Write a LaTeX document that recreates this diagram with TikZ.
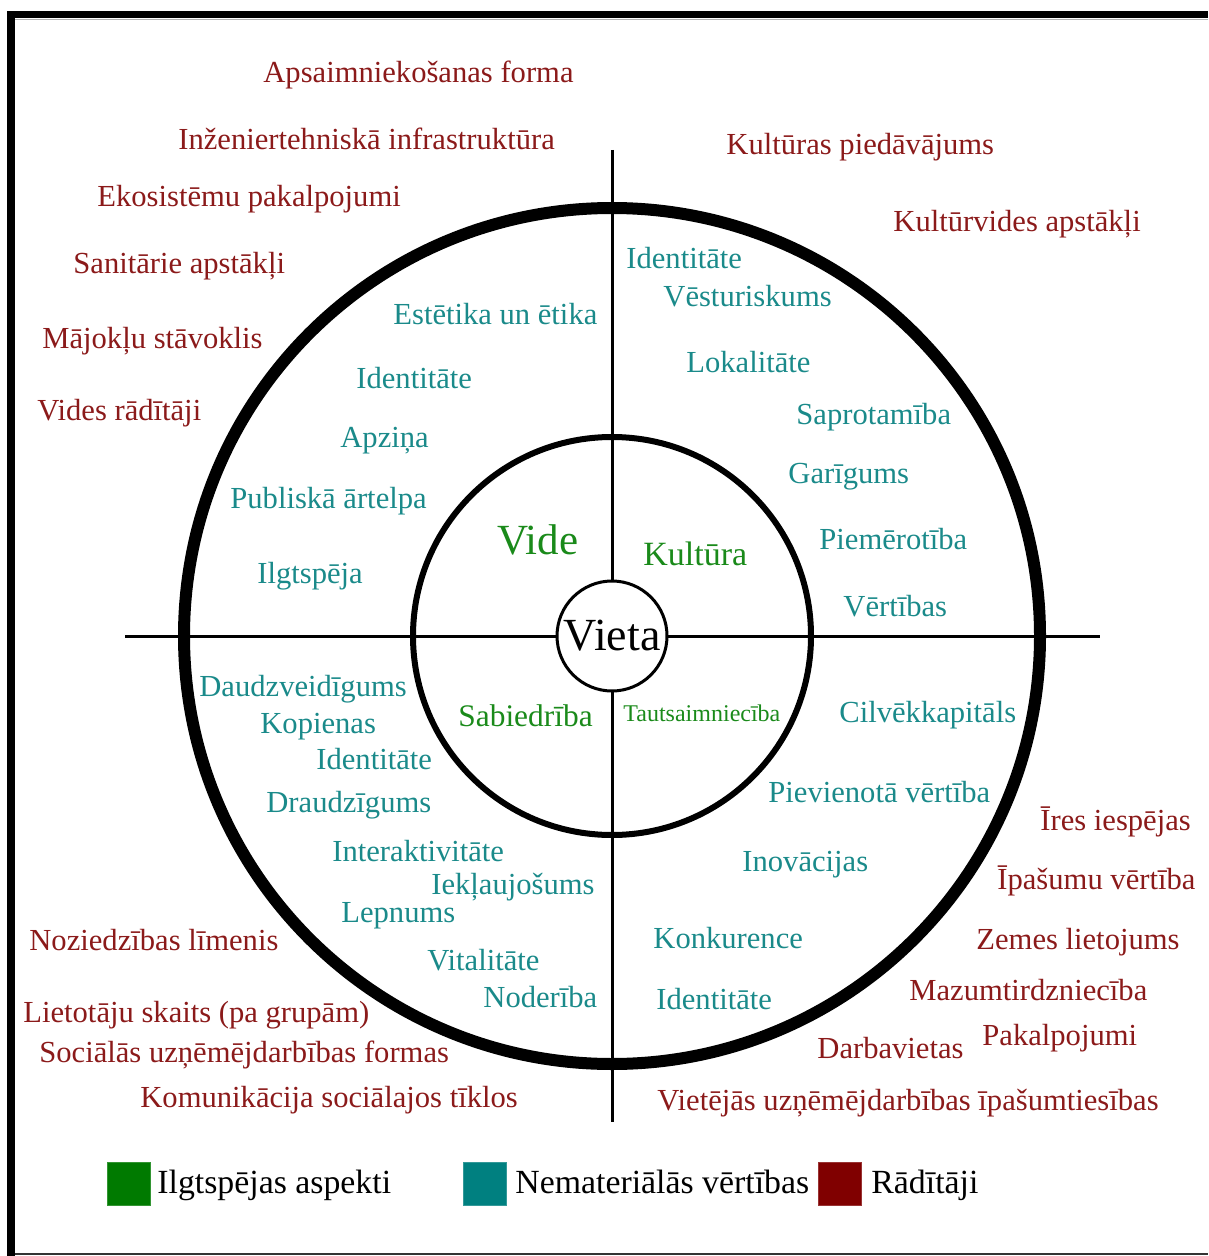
\documentclass[tikz,border=0pt]{standalone}
\usepackage{fontspec}
\setmainfont{Liberation Serif}
\definecolor{ind}{HTML}{8B1A1A}
\definecolor{nem}{HTML}{1A8A8A}
\definecolor{ilg}{HTML}{1A8A1A}
\definecolor{legG}{HTML}{007A00}
\definecolor{legT}{HTML}{008080}
\definecolor{legR}{HTML}{800000}
\begin{document}
\begin{tikzpicture}[x=0.5pt,y=-0.5pt,
  lbl/.style={anchor=west,inner sep=0pt,text height=0.66em,text depth=0pt,yshift=-2pt,font=\fontsize{15.3}{18}\selectfont},
  redtxt/.style={lbl,text=ind},
  tealtxt/.style={lbl,text=nem},
  greentxt/.style={lbl,text=ilg},
  legtxt/.style={lbl,text=black,font=\fontsize{16.9}{20}\selectfont},
  legbox/.style={draw=#1!80!white,fill=#1,line width=0.5pt,minimum size=21.5pt,inner sep=0pt},
  axis/.style={line width=1.5pt},
]
\useasboundingbox (0,0) rectangle (1208,1256);
% frame
\fill[black] (7,11) rectangle (1208,18);
\fill[black] (7,11) rectangle (15,1256);
\draw[gray!60,line width=0.6pt] (15,19.5) -- (1208,19.5);
\draw[black!80,line width=0.8pt] (15,1254) -- (1208,1254);

% centre and axes
\coordinate (c) at (612,636);
\coordinate (axL) at (125,636);
\coordinate (axR) at (1100,636);
\coordinate (axT) at (612,150);
\coordinate (axB) at (612,1122);
\draw[axis] (axL) -- (axR);
\draw[axis] (axT) -- (axB);
\draw[line width=6pt] (c) circle[radius=428];
\draw[line width=3pt] (c) circle[radius=199];
\node[circle,draw,fill=white,line width=1.5pt,minimum size=55pt,inner sep=0pt,
  font=\fontsize{23}{26}\selectfont] (vieta) at (c) {Vieta};

% sustainability aspects
\node[greentxt,font=\fontsize{21.5}{24}\selectfont] (vide) at (497,544) {Vide};
\node[greentxt,font=\fontsize{17}{20}\selectfont] (kult) at (643,555) {Kultūra};
\node[greentxt,font=\fontsize{15.7}{19}\selectfont] (sab) at (458,716) {Sabiedrība};
\node[greentxt,font=\fontsize{12}{14}\selectfont] (taut) at (623,711) {Tautsaimniecība};

% top-left indicators
\node[redtxt] (r1) at (263,72) {Apsaimniekošanas forma};
\node[redtxt] (r2) at (178,139) {Inženiertehniskā infrastruktūra};
\node[redtxt] (r3) at (97,196) {Ekosistēmu pakalpojumi};
\node[redtxt] (r4) at (73,263) {Sanitārie apstākļi};
\node[redtxt] (r5) at (42,338) {Mājokļu stāvoklis};
\node[redtxt] (r6) at (37,410) {Vides rādītāji};
% top-right indicators
\node[redtxt] (r7) at (726,144) {Kultūras piedāvājums};
\node[redtxt] (r8) at (893,221) {Kultūrvides apstākļi};

% top-left values
\node[tealtxt] (t1) at (393,314) {Estētika un ētika};
\node[tealtxt] (t2) at (356,378) {Identitāte};
\node[tealtxt] (t3) at (340,437) {Apziņa};
\node[tealtxt] (t4) at (230,498) {Publiskā ārtelpa};
\node[tealtxt] (t5) at (257,573) {Ilgtspēja};
% top-right values
\node[tealtxt] (t6) at (626,258) {Identitāte};
\node[tealtxt] (t7) at (663,296) {Vēsturiskums};
\node[tealtxt] (t8) at (686,362) {Lokalitāte};
\node[tealtxt] (t9) at (796,414) {Saprotamība};
\node[tealtxt] (t10) at (788,473) {Garīgums};
\node[tealtxt] (t11) at (819,539) {Piemērotība};
\node[tealtxt] (t12) at (843,606) {Vērtības};

% bottom-left values
\node[tealtxt] (t13) at (199,686) {Daudzveidīgums};
\node[tealtxt] (t14) at (260,723) {Kopienas};
\node[tealtxt] (t15) at (316,759) {Identitāte};
\node[tealtxt] (t16) at (266,802) {Draudzīgums};
\node[tealtxt] (t17) at (332,851) {Interaktivitāte};
\node[tealtxt] (t18) at (431,884) {Iekļaujošums};
\node[tealtxt] (t19) at (341,912) {Lepnums};
\node[tealtxt] (t20) at (427,960) {Vitalitāte};
\node[tealtxt] (t21) at (483,997) {Noderība};
% bottom-left indicators
\node[redtxt] (r9) at (29,940) {Noziedzības līmenis};
\node[redtxt] (r10) at (23,1012) {Lietotāju skaits (pa grupām)};
\node[redtxt] (r11) at (39,1052) {Sociālās uzņēmējdarbības formas};
\node[redtxt] (r12) at (140,1097) {Komunikācija sociālajos tīklos};

% bottom-right values
\node[tealtxt] (t22) at (839,712) {Cilvēkkapitāls};
\node[tealtxt] (t23) at (768,792) {Pievienotā vērtība};
\node[tealtxt] (t24) at (742,861) {Inovācijas};
\node[tealtxt] (t25) at (653,938) {Konkurence};
\node[tealtxt] (t26) at (656,999) {Identitāte};
% bottom-right indicators
\node[redtxt] (r13) at (1040,820) {Īres iespējas};
\node[redtxt] (r14) at (997,879) {Īpašumu vērtība};
\node[redtxt] (r15) at (976,939) {Zemes lietojums};
\node[redtxt] (r16) at (909,990) {Mazumtirdzniecība};
\node[redtxt] (r17) at (982,1035) {Pakalpojumi};
\node[redtxt] (r18) at (817,1048) {Darbavietas};
\node[redtxt] (r19) at (657,1100) {Vietējās uzņēmējdarbības īpašumtiesības};

% legend
\node[legbox=legG] (lg1) at (128.5,1183.5) {};
\node[legtxt] (lt1) at (157,1183) {Ilgtspējas aspekti};
\node[legbox=legT] (lg2) at (484.5,1183.5) {};
\node[legtxt] (lt2) at (515,1183) {Nemateriālās vērtības};
\node[legbox=legR] (lg3) at (839.5,1183.5) {};
\node[legtxt] (lt3) at (871,1183) {Rādītāji};
\end{tikzpicture}
\end{document}
